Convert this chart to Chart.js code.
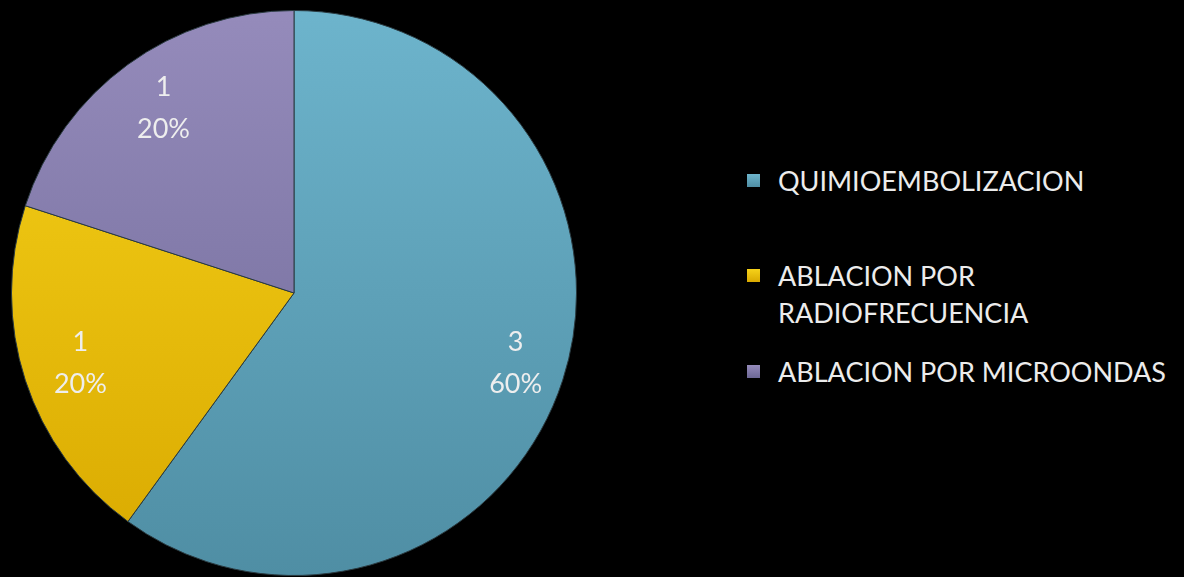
<!DOCTYPE html>
<html>
<head>
<meta charset="utf-8">
<script src="https://cdn.jsdelivr.net/npm/chart.js@4.4.0/dist/chart.umd.min.js"></script>
<style>
  html, body { margin: 0; padding: 0; background: #000; width: 1184px; height: 577px; overflow: hidden; }
  #cajaPastel { position: absolute; left: 11px; top: 10px; width: 566px; height: 566px; }
  #leyenda { position: absolute; left: 745px; top: 162px; width: 430px; font-family: Lato, sans-serif; font-size: 27px; color: #ececec; }
  .item { position: relative; padding-left: 33px; line-height: 37px; }
  .cuadro { position: absolute; left: 2px; top: 12px; width: 13px; height: 13px; }
</style>
</head>
<body>
<div id="cajaPastel"><canvas id="grafPastel"></canvas></div>
<div id="leyenda"></div>
<script>
const categorias = ['QUIMIOEMBOLIZACION', 'ABLACION POR RADIOFRECUENCIA', 'ABLACION POR MICROONDAS'];
const valores    = [3, 1, 1];
const coloresArriba = ['#6db4cc', '#f6d21a', '#958bbb'];
const coloresAbajo  = ['#4f8ea4', '#d9a900', '#6c6795'];

const total = valores.reduce((s, v) => s + v, 0);

function degradado(ctx, i) {
  const area = ctx.chart.chartArea;
  if (!area) return coloresArriba[i];
  const g = ctx.chart.ctx.createLinearGradient(0, area.top, 0, area.bottom);
  g.addColorStop(0, coloresArriba[i]);
  g.addColorStop(1, coloresAbajo[i]);
  return g;
}

const etiquetas = {
  id: 'etiquetas',
  afterDatasetsDraw(chart) {
    const c = chart.ctx;
    chart.getDatasetMeta(0).data.forEach((arco, i) => {
      const { x, y, startAngle, endAngle, outerRadius } = arco.getProps(['x', 'y', 'startAngle', 'endAngle', 'outerRadius'], true);
      const medio = (startAngle + endAngle) / 2;
      const px = x + Math.cos(medio) * outerRadius * 0.81 + 4;
      const py = y + Math.sin(medio) * outerRadius * 0.81;
      c.save();
      c.fillStyle = '#eeeeee';
      c.font = '27px Lato, sans-serif';
      c.textAlign = 'center';
      c.textBaseline = 'middle';
      c.fillText(String(valores[i]), px, py - 21);
      c.fillText(Math.round(valores[i] / total * 100) + '%', px, py + 21);
      c.restore();
    });
  }
};

new Chart(document.getElementById('grafPastel'), {
  type: 'pie',
  data: {
    labels: categorias,
    datasets: [{
      data: valores,
      backgroundColor: ctx => degradado(ctx, ctx.dataIndex),
      borderColor: '#2a3a40',
      borderWidth: 1
    }]
  },
  options: {
    responsive: true, maintainAspectRatio: false, animation: false,
    layout: { padding: 0 },
    plugins: { legend: { display: false }, tooltip: { enabled: false } }
  },
  plugins: [etiquetas]
});

document.getElementById('leyenda').innerHTML = categorias.map((cat, i) => `
  <div class="item" style="margin-bottom:${i === 0 ? 58 : 22}px">
    <div class="cuadro" style="background:linear-gradient(${coloresArriba[i]}, ${coloresAbajo[i]})"></div>${cat}
  </div>`).join('');
</script>
</body>
</html>
